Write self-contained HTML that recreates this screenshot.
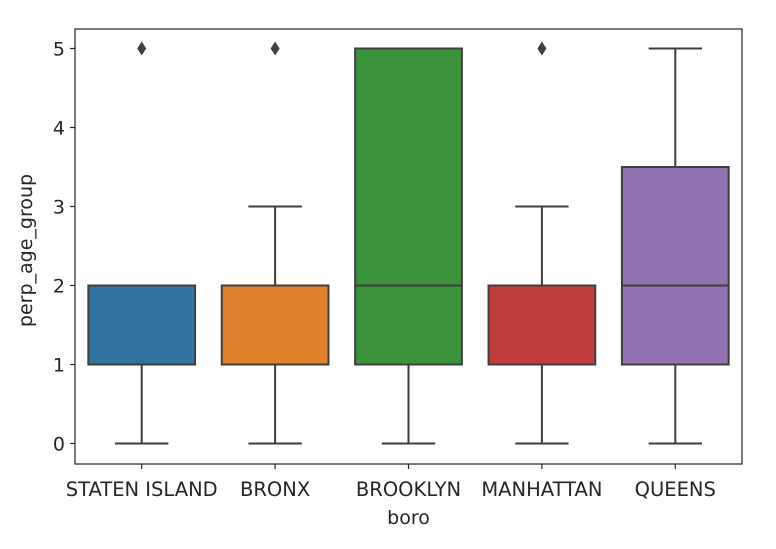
<!DOCTYPE html>
<html><head><meta charset="utf-8"><style>
body{margin:0;background:#fff;width:776px;height:544px;overflow:hidden}
svg text{font-family:"DejaVu Sans",sans-serif;fill:#262626}
</style></head><body>
<svg id="c" width="776" height="544"></svg>
<script>
const categories=["STATEN ISLAND","BRONX","BROOKLYN","MANHATTAN","QUEENS"];
const colors=["#3274a1","#e1812c","#3a923a","#c03d3e","#9372b2"];
const whiskerLow=[0,0,0,0,0];
const q1=[1,1,1,1,1];
const medians=[2,2,2,2,2];
const q3=[2,2,5,2,3.5];
const whiskerHigh=[2,3,5,3,5];
const outliers=[[5],[5],[],[5],[]];
const yTicks=[0,1,2,3,4,5];
const L=75,R=742,T=29,B=464;
const y=v=>443.5-v*79;
const band=(R-L)/categories.length;
const x=i=>L+band*(i+0.5);
const svg=document.getElementById('c');
const NS='http://www.w3.org/2000/svg';
function mk(t,a,p){const e=document.createElementNS(NS,t);for(const k in a)e.setAttribute(k,a[k]);(p||svg).appendChild(e);return e;}
const grey='#3f3f3f';
categories.forEach((c,i)=>{
  const g=mk('g',{});
  
  
  const cx=x(i),w=band*0.8;
  mk('line',{x1:cx,x2:cx,y1:y(whiskerLow[i]),y2:y(q1[i]),stroke:grey,'stroke-width':2},g);
  mk('line',{x1:cx,x2:cx,y1:y(q3[i]),y2:y(whiskerHigh[i]),stroke:grey,'stroke-width':2},g);
  mk('line',{x1:cx-w/4,x2:cx+w/4,y1:y(whiskerLow[i]),y2:y(whiskerLow[i]),stroke:grey,'stroke-width':2},g);
  mk('line',{x1:cx-w/4,x2:cx+w/4,y1:y(whiskerHigh[i]),y2:y(whiskerHigh[i]),stroke:grey,'stroke-width':2},g);
  mk('rect',{x:cx-w/2,y:y(q3[i]),width:w,height:y(q1[i])-y(q3[i]),fill:colors[i],stroke:grey,'stroke-width':2},g);
  mk('line',{x1:cx-w/2,x2:cx+w/2,y1:y(medians[i]),y2:y(medians[i]),stroke:grey,'stroke-width':2},g);
  outliers[i].forEach(o=>{
    const d=mk('path',{d:`M${cx} ${y(o)-7}L${cx+4.5} ${y(o)}L${cx} ${y(o)+7}L${cx-4.5} ${y(o)}Z`,fill:grey},g);
    
    
  });
  const t=mk('text',{x:cx,y:496,'text-anchor':'middle','font-size':19.5});
  t.textContent=c;
  
  
  mk('line',{x1:cx,x2:cx,y1:B,y2:B+5,stroke:'#262626','stroke-width':1.2});
});
yTicks.forEach(v=>{
  mk('line',{x1:L-5,x2:L,y1:y(v),y2:y(v),stroke:'#262626','stroke-width':1.2});
  const t=mk('text',{x:L-10,y:y(v)+7,'text-anchor':'end','font-size':19});
  t.textContent=v;
  
  
});
const f=mk('rect',{x:L,y:T,width:R-L,height:B-T,fill:'none',stroke:'#262626','stroke-width':1.2});


const xt=mk('text',{x:(L+R)/2,y:524,'text-anchor':'middle','font-size':19});
xt.textContent='boro';


const yt=mk('text',{x:0,y:0,'text-anchor':'middle','font-size':19,transform:`translate(32,${(T+B)/2+4}) rotate(-90)`});
yt.textContent='perp_age_group';


</script>
</body></html>
